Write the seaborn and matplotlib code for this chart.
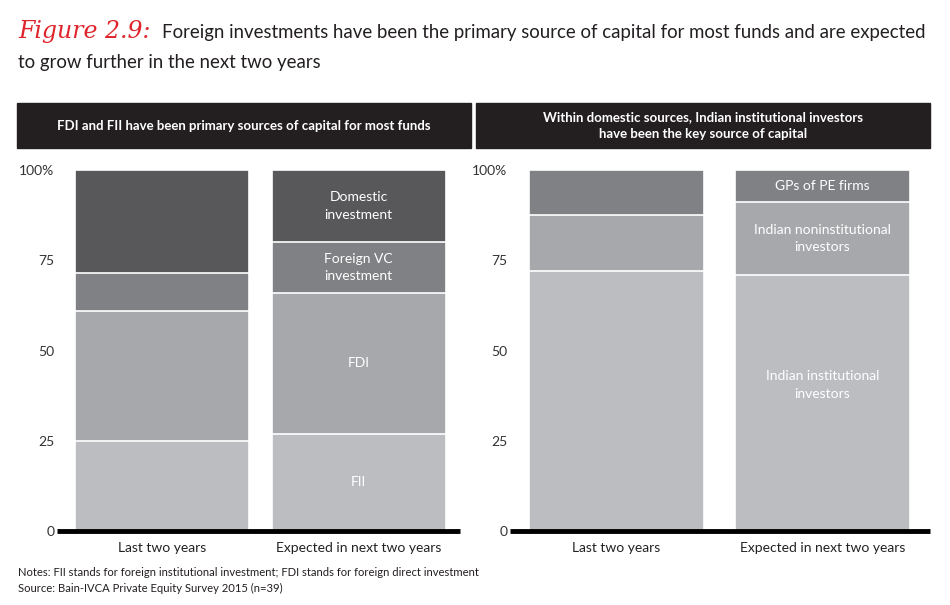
import numpy as np
import matplotlib.pyplot as plt
import seaborn as sns
import pandas as pd

# data (percent of capital)
periods = ["Last two years", "Expected in next two years"]

left_series = ["FII", "FDI", "Foreign VC\ninvestment", "Domestic\ninvestment"]
left_fii = [25, 27]
left_fdi = [36, 39]
left_vc = [10.5, 14]
left_dom = [28.5, 20]

right_series = ["Indian institutional\ninvestors", "Indian noninstitutional\ninvestors", "GPs of PE firms"]
right_inst = [72, 71]
right_noninst = [15.5, 20]
right_gps = [12.5, 9]

left_colors = ["#bcbdc0", "#a7a8ab", "#808184", "#58585b"]
right_colors = ["#bcbdc0", "#a7a8ab", "#808184"]

sns.set_style("white")
plt.rcParams["font.family"] = ["Lato", "DejaVu Sans"]

W, H = 950, 605
fig = plt.figure(figsize=(W / 100, H / 100), dpi=100)


def px_axes(x0, x1, ytop, ybot):
    return fig.add_axes([x0 / W, 1 - ybot / H, (x1 - x0) / W, (ybot - ytop) / H])


def stacked(ax, series, layers, colors, width, label_nudge):
    cum = np.cumsum(np.array(layers), axis=0)
    # draw tallest first so the lower segments sit on top
    for i in range(len(layers) - 1, -1, -1):
        df = pd.DataFrame({"period": periods, "value": cum[i]})
        sns.barplot(data=df, x="period", y="value", color=colors[i], width=width,
                    edgecolor="white", linewidth=1.2, saturation=1, ax=ax)
    # labels only on the second bar
    for i, name in enumerate(series):
        lo = cum[i - 1][1] if i > 0 else 0
        hi = cum[i][1]
        ax.text(1, (lo + hi) / 2 + label_nudge.get(i, 0), name, color="white",
                ha="center", va="center", fontsize=10, linespacing=1.55)


def style_axes(ax, xlim):
    ax.set_xlim(*xlim)
    ax.set_ylim(0, 100)
    ax.set_yticks([0, 25, 50, 75, 100])
    ax.set_yticklabels(["0", "25", "50", "75", "100%"], fontsize=10, color="#333333")
    ax.tick_params(axis="y", length=0, pad=2)
    ax.tick_params(axis="x", length=0, pad=8, labelsize=10, labelcolor="#222222")
    ax.set_xlabel("")
    ax.set_ylabel("")
    for s in ax.spines.values():
        s.set_visible(False)
    ax.axhline(0, color="black", lw=3.5, clip_on=False, zorder=5, solid_capstyle="butt")


ax1 = px_axes(57, 460, 170, 531)
stacked(ax1, left_series, [left_fii, left_fdi, left_vc, left_dom], left_colors, 0.886, {})
style_axes(ax1, (-0.535, 1.515))

ax2 = px_axes(510, 930, 170, 531)
stacked(ax2, right_series, [right_inst, right_noninst, right_gps], right_colors, 0.85, {0: 5})
style_axes(ax2, (-0.517, 1.522))

# header boxes
for x0, x1, txt in [(17, 471, "FDI and FII have been primary sources of capital for most funds"),
                    (476, 930, "Within domestic sources, Indian institutional investors\nhave been the key source of capital")]:
    fig.patches.append(plt.Rectangle((x0 / W, 1 - 148 / H), (x1 - x0) / W, 45 / H,
                                     transform=fig.transFigure, color="#231f20"))
    fig.text((x0 + x1) / 2 / W, 1 - 125.5 / H, txt, color="white", fontsize=9.5,
             fontweight="bold", ha="center", va="center", linespacing=1.5)

# title
fig.text(18 / W, 1 - 38 / H, "Figure 2.9:", color="#e0242b", fontsize=17,
         style="italic", family=["DejaVu Serif"], va="baseline")
fig.text(162 / W, 1 - 38 / H,
         "Foreign investments have been the primary source of capital for most funds and are expected",
         color="#231f20", fontsize=13.4, va="baseline")
fig.text(18 / W, 1 - 68 / H, "to grow further in the next two years",
         color="#231f20", fontsize=13.4, va="baseline")

# notes
fig.text(18 / W, 1 - 573 / H,
         "Notes: FII stands for foreign institutional investment; FDI stands for foreign direct investment",
         fontsize=8.1, color="#231f20", va="center")
fig.text(18 / W, 1 - 588 / H, "Source: Bain-IVCA Private Equity Survey 2015 (n=39)",
         fontsize=8.1, color="#231f20", va="center")

fig.savefig("out.png", dpi=100)
